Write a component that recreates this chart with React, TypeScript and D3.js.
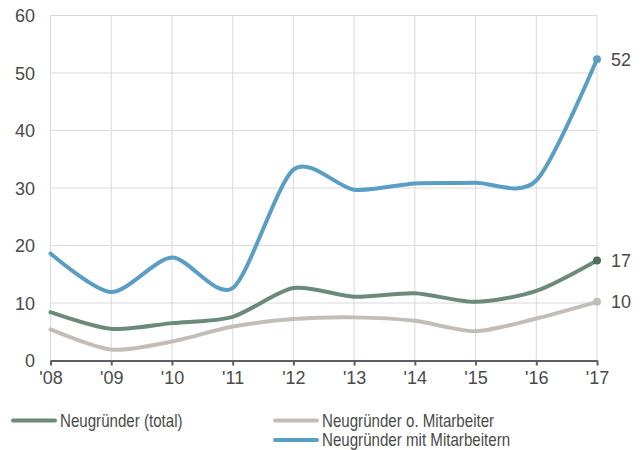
import * as d3 from "d3";
import { useEffect, useRef } from "react";

const years = ["'08", "'09", "'10", "'11", "'12", "'13", "'14", "'15", "'16", "'17"];
const total = [8.4, 5.5, 6.5, 7.6, 12.6, 11.1, 11.7, 10.2, 12.1, 17.4];
const ohneMitarbeiter = [5.4, 1.9, 3.3, 5.9, 7.2, 7.5, 6.9, 5.1, 7.3, 10.2];
const mitMitarbeitern = [18.6, 11.9, 17.9, 12.6, 33.2, 29.7, 30.8, 30.9, 31.3, 52.4];
const yTicks = [0, 10, 20, 30, 40, 50, 60];

const series = [
  { name: "Neugründer (total)", values: total, color: "#6b8a7a", dot: "#4f6e5d", label: "17" },
  { name: "Neugründer o. Mitarbeiter", values: ohneMitarbeiter, color: "#c3bdb8", dot: "#c3bdb8", label: "10" },
  { name: "Neugründer mit Mitarbeitern", values: mitMitarbeitern, color: "#5a9ec4", dot: "#5a9ec4", label: "52" },
];

export default function App() {
  const ref = useRef<SVGSVGElement>(null);

  useEffect(() => {
    if (!ref.current) return;
    const svg = d3.select(ref.current);
    svg.selectAll("*").remove();

    const left = 50.5,
      right = 597,
      top = 15.5,
      bottom = 360.5;
    const font = "Liberation Sans, Arial, sans-serif";

    const x = d3.scalePoint().domain(years).range([left, right]);
    const y = d3.scaleLinear().domain([0, 60]).range([bottom, top]);

    // grid
    const g = svg.append("g");
    g.selectAll(".hg")
      .data(yTicks.slice(1))
      .enter()
      .append("line")
      .attr("x1", left)
      .attr("x2", right)
      .attr("y1", (d) => y(d))
      .attr("y2", (d) => y(d))
      .attr("stroke", "#d9d9d9")
      .attr("stroke-width", 1);
    g.selectAll(".vg")
      .data(years)
      .enter()
      .append("line")
      .attr("x1", (d) => x(d) as number)
      .attr("x2", (d) => x(d) as number)
      .attr("y1", top)
      .attr("y2", bottom)
      .attr("stroke", "#d9d9d9")
      .attr("stroke-width", 1);

    // y labels
    g.selectAll(".yl")
      .data(yTicks)
      .enter()
      .append("text")
      .attr("x", 35)
      .attr("y", (d) => y(d) + 6.5)
      .attr("text-anchor", "end")
      .attr("font-family", font)
      .attr("font-size", 18)
      .attr("fill", "#4a4a4a")
      .text((d) => d);

    // x axis
    const xa = svg
      .append("g")
      .attr("transform", `translate(0,${bottom})`)
      .call(d3.axisBottom(x).tickSize(5).tickSizeOuter(0).tickPadding(6));
    xa.select(".domain").attr("stroke", "#5a5f66").attr("stroke-width", 2);
    xa.selectAll(".tick line").attr("stroke", "#5a5f66").attr("stroke-width", 2);
    xa.selectAll(".tick text")
      .attr("font-family", font)
      .attr("font-size", 18)
      .attr("fill", "#4a4a4a");

    // lines
    const line = d3
      .line<number>()
      .x((_, i) => x(years[i]) as number)
      .y((d) => y(d))
      .curve(d3.curveCardinal.tension(0.2));

    series.forEach((s) => {
      svg
        .append("path")
        .attr("d", line(s.values))
        .attr("fill", "none")
        .attr("stroke", s.color)
        .attr("stroke-width", 4)
        .attr("stroke-linecap", "round");
      const last = s.values[s.values.length - 1];
      svg
        .append("circle")
        .attr("cx", x(years[years.length - 1]) as number)
        .attr("cy", y(last))
        .attr("r", 4)
        .attr("fill", s.dot);
      svg
        .append("text")
        .attr("x", 611)
        .attr("y", y(last) + 6.5)
        .attr("font-family", font)
        .attr("font-size", 18)
        .attr("fill", "#4a4a4a")
        .text(s.label);
    });

    // legend
    const legendPos = [
      { x: 13, y: 420.5 },
      { x: 275, y: 420.5 },
      { x: 275, y: 440 },
    ];
    series.forEach((s, i) => {
      const p = legendPos[i];
      svg
        .append("line")
        .attr("x1", p.x)
        .attr("x2", p.x + 42)
        .attr("y1", p.y)
        .attr("y2", p.y)
        .attr("stroke", s.color)
        .attr("stroke-width", 4)
        .attr("stroke-linecap", "round");
      svg
        .append("text")
        .attr("transform", `translate(${p.x + 47},${p.y + 6}) scale(0.84,1)`)
        .attr("font-family", font)
        .attr("font-size", 18)
        .attr("fill", "#4a4a4a")
        .text(s.name);
    });
  }, []);

  return (
    <svg
      ref={ref}
      width={642}
      height={450}
      style={{ position: "absolute", left: 0, top: 0, background: "#fff" }}
    />
  );
}
